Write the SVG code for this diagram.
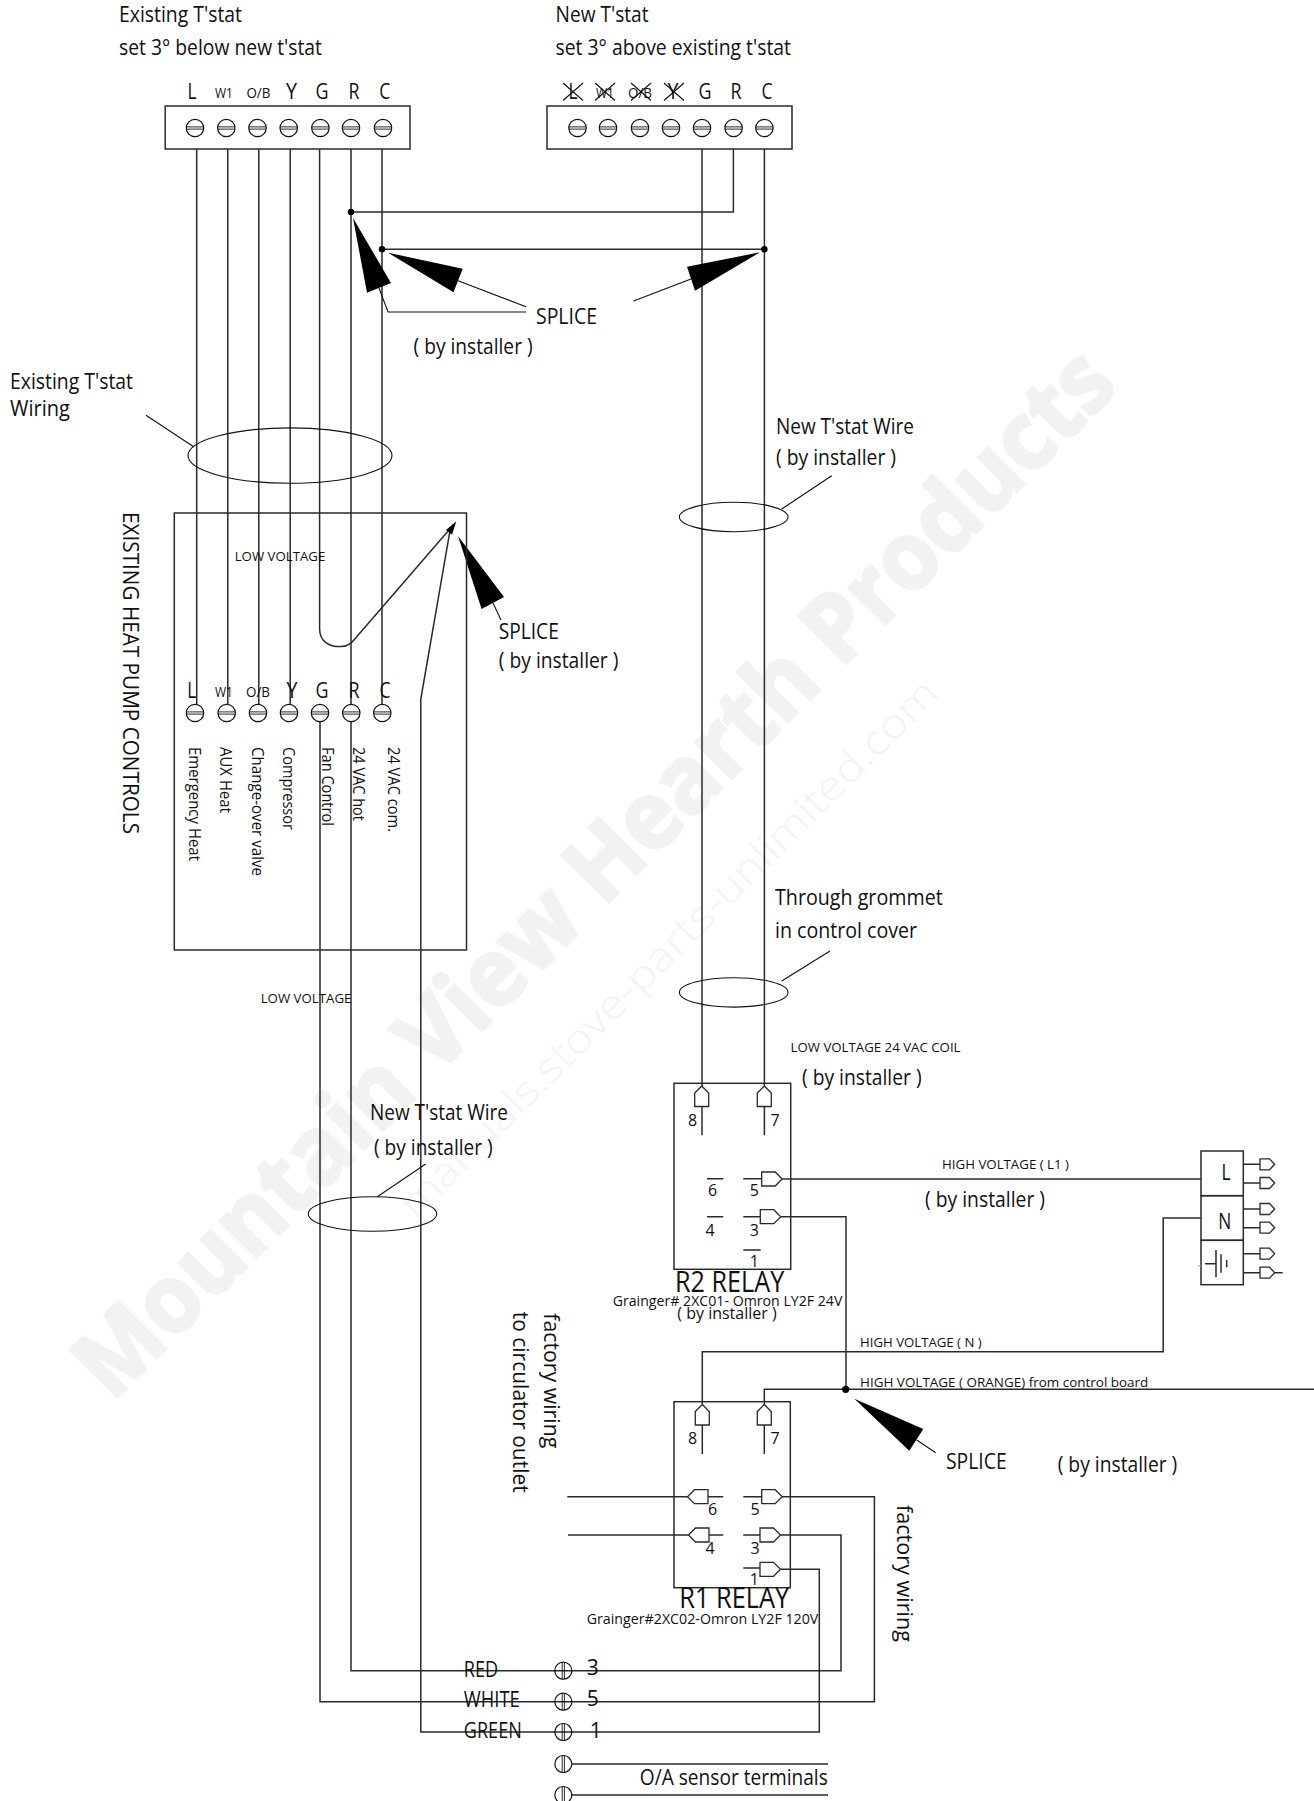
<svg xmlns="http://www.w3.org/2000/svg" xmlns:xlink="http://www.w3.org/1999/xlink" width="1314" height="1801" viewBox="0 0 1314 1801">
<style>
text{font-family:"Open Sans","Noto Sans","Liberation Sans",sans-serif;fill:#111;font-size:21px}
.c{text-anchor:middle}
.s12{font-size:13.5px}.s14{font-size:14.5px}.r14{font-size:15.5px}.s15{font-size:16px}.s16{font-size:17px}.s27{font-size:29px}
.w{fill:none;stroke:#2a2a2a;stroke-width:1.5}
.thin{fill:none;stroke:#111;stroke-width:1.1}
.box{fill:none;stroke:#2a2a2a;stroke-width:1.5}
.big{fill:#000;stroke:none}
.wm1{font-family:"Open Sans","Liberation Sans",sans-serif;font-weight:700;font-size:94px;fill:#f2f2f2;stroke:#f2f2f2;stroke-width:3}
.wm2{font-family:"Open Sans","Liberation Sans",sans-serif;font-weight:300;font-size:40px;fill:#f3f3f3}
</style>
<defs>
<g id="screw-h"><circle r="8.7" fill="#fff" stroke="#111" stroke-width="1.2"/><path d="M-8.7-1.1H8.7M-8.7 1.1H8.7" stroke="#111" stroke-width="0.9" fill="none"/></g>
<g id="screw-v"><circle r="8.5" fill="none" stroke="#111" stroke-width="1.2"/><path d="M-1.1-8.5V8.5M1.1-8.5V8.5" stroke="#111" stroke-width="0.9" fill="none"/></g>
<polygon id="plug" points="0,-7 13.5,-7 20.5,0 13.5,7 0,7" fill="#fff" stroke="#2a2a2a" stroke-width="1.3"/>
<polygon id="plug-s" points="0,-5.5 9.5,-5.5 14.7,0 9.5,5.5 0,5.5" fill="#fff" stroke="#2a2a2a" stroke-width="1.3"/>
</defs>
<g id="watermark">
<text class="wm1" transform="translate(112,1403) rotate(-45.2)" textLength="1431" lengthAdjust="spacingAndGlyphs">Mountain View Hearth Products</text>
<text class="wm2" transform="translate(416,1220) rotate(-45)" textLength="742" lengthAdjust="spacingAndGlyphs">manuals.stove-parts-unlimited.com</text>
</g>
<g id="connectors">
<path class="w" d="M196.7 149V709M227.8 149V709M258.8 149V709M290.2 149V709M382 149V709"/>
<path class="w" d="M319.6 149V628.8C319.6 642 330 647 341 646.6C347 646.5 351 644 355 638.7L449 530"/>
<path class="w" d="M351 149V1670.7H841V1535H780.7"/>
<path class="w" d="M320 720V1701.7H874.4V1496.7H781.7"/>
<path class="w" d="M450 530.7L420.8 699V1732H819.3V1569.3H780.7"/>
<path class="w" d="M351 212H733.4V149"/>
<path class="w" d="M382 249.3H764.4"/>
<path class="w" d="M702 149V1135.3M764.4 149V1135.3"/>
<path class="w" d="M782.3 1179H1201"/>
<path class="w" d="M781 1216.7H846V1389.3"/>
<path class="w" d="M702.3 1454V1351.7H1163.2V1218H1201"/>
<path class="w" d="M764.3 1454V1389.3H1314"/>
<path class="w" d="M567.3 1496.7H723.3M568 1535H723.3"/>
<path class="w" d="M563.3 1764H828M563.3 1795H828"/>
<circle cx="351" cy="212" r="3.2" fill="#000"/>
<circle cx="382" cy="249.3" r="3.2" fill="#000"/>
<circle cx="764.4" cy="249.3" r="3.2" fill="#000"/>
<circle cx="845.7" cy="1389.3" r="3.6" fill="#000"/>
<path class="thin" d="M379 288L388 312H526M458 280.7L526 306.7M691 279L633.5 301M493 603L501 620M916.7 1440L935.7 1452.7"/>
<polygon class="big" points="353,218 391,283 367,292.7"/>
<polygon class="big" points="388,252.7 462.7,268.7 453.5,292.3"/>
<polygon class="big" points="760,252.3 687,266.7 695,290.7"/>
<polygon class="big" points="458,536 504,597 481.6,609"/>
<polygon class="big" points="854.3,1398.7 923.3,1429 909.3,1450.7"/>
<polygon class="big" points="456.3,521.3 446,530 452,534.7"/>
<path class="thin" d="M146 415.3L194 447M781.7 509L831.7 475.7M781.7 981L830 951M377.3 1196.7L425.7 1164"/>
<ellipse class="thin" cx="290" cy="455.6" rx="102" ry="27.7"/>
<ellipse class="thin" cx="733.7" cy="517" rx="54.3" ry="14.7"/>
<ellipse class="thin" cx="733.7" cy="992.4" rx="54.3" ry="14.7"/>
<ellipse class="thin" cx="372.5" cy="1214" rx="64.2" ry="17.2"/>
</g>
<g id="existing-tstat">
<text x="119" y="21.7" textLength="123" lengthAdjust="spacingAndGlyphs">Existing T'stat</text>
<text x="119" y="55" textLength="203" lengthAdjust="spacingAndGlyphs">set 3° below new t'stat</text>
<rect class="box" x="165.2" y="106" width="244.8" height="43"/>
<text class="c" x="192" y="98.7" textLength="9" lengthAdjust="spacingAndGlyphs">L</text><text class="c s14" x="224" y="98" textLength="18" lengthAdjust="spacingAndGlyphs">W1</text><text class="c s14" x="258.4" y="98" textLength="24" lengthAdjust="spacingAndGlyphs">O/B</text><text class="c" x="291.5" y="98.7" textLength="11" lengthAdjust="spacingAndGlyphs">Y</text><text class="c" x="322" y="98.7" textLength="13" lengthAdjust="spacingAndGlyphs">G</text><text class="c" x="354" y="98.7" textLength="11" lengthAdjust="spacingAndGlyphs">R</text><text class="c" x="384.7" y="98.7" textLength="11" lengthAdjust="spacingAndGlyphs">C</text>
<use href="#screw-h" x="195" y="128"/><use href="#screw-h" x="226.3" y="128"/><use href="#screw-h" x="257.5" y="128"/><use href="#screw-h" x="288.7" y="128"/><use href="#screw-h" x="320.4" y="128"/><use href="#screw-h" x="351" y="128"/><use href="#screw-h" x="383" y="128"/>
</g>
<g id="new-tstat">
<text x="555.5" y="21.7" textLength="93" lengthAdjust="spacingAndGlyphs">New T'stat</text>
<text x="555.5" y="55" textLength="235.5" lengthAdjust="spacingAndGlyphs">set 3° above existing t'stat</text>
<rect class="box" x="547" y="106" width="245" height="43"/>
<text class="c" x="573" y="98.7" textLength="9" lengthAdjust="spacingAndGlyphs">L</text><text class="c s14" x="605" y="98" textLength="18" lengthAdjust="spacingAndGlyphs">W1</text><text class="c s14" x="640" y="98" textLength="24" lengthAdjust="spacingAndGlyphs">O/B</text><text class="c" x="673" y="98.7" textLength="11" lengthAdjust="spacingAndGlyphs">Y</text><text class="c" x="705" y="98.7" textLength="13" lengthAdjust="spacingAndGlyphs">G</text><text class="c" x="736" y="98.7" textLength="11" lengthAdjust="spacingAndGlyphs">R</text><text class="c" x="767" y="98.7" textLength="11" lengthAdjust="spacingAndGlyphs">C</text>
<path class="thin" d="M563 83L583 100.5M583 83L563 100.5M595 83L615 100.5M615 83L595 100.5M631 83L651 100.5M651 83L631 100.5M664 83L684 100.5M684 83L664 100.5"/>
<use href="#screw-h" x="577.5" y="128"/><use href="#screw-h" x="608" y="128"/><use href="#screw-h" x="640" y="128"/><use href="#screw-h" x="671" y="128"/><use href="#screw-h" x="702" y="128"/><use href="#screw-h" x="733.6" y="128"/><use href="#screw-h" x="764.4" y="128"/>
</g>
<g id="heat-pump-controls">
<rect class="box" x="174.3" y="513" width="292.2" height="437"/>
<text transform="translate(123,512) rotate(90)" textLength="322" lengthAdjust="spacingAndGlyphs">EXISTING HEAT PUMP CONTROLS</text>
<text class="s12" x="234.7" y="560.8" textLength="90.6" lengthAdjust="spacingAndGlyphs">LOW VOLTAGE</text>
<text class="c" x="191.7" y="698" textLength="9" lengthAdjust="spacingAndGlyphs">L</text><text class="c s14" x="224" y="696.7" textLength="18" lengthAdjust="spacingAndGlyphs">W1</text><text class="c s14" x="258" y="696.7" textLength="24" lengthAdjust="spacingAndGlyphs">O/B</text><text class="c" x="292" y="698" textLength="11" lengthAdjust="spacingAndGlyphs">Y</text><text class="c" x="322" y="698" textLength="13" lengthAdjust="spacingAndGlyphs">G</text><text class="c" x="354" y="698" textLength="11" lengthAdjust="spacingAndGlyphs">R</text><text class="c" x="385" y="698" textLength="11" lengthAdjust="spacingAndGlyphs">C</text>
<use href="#screw-h" x="195" y="713"/><use href="#screw-h" x="226.7" y="713"/><use href="#screw-h" x="258" y="713"/><use href="#screw-h" x="289" y="713"/><use href="#screw-h" x="320" y="713"/><use href="#screw-h" x="351.3" y="713"/><use href="#screw-h" x="382.3" y="713"/>
<text class="r14" transform="translate(189,747) rotate(90)" textLength="114" lengthAdjust="spacingAndGlyphs">Emergency Heat</text>
<text class="r14" transform="translate(219.5,747) rotate(90)" textLength="66" lengthAdjust="spacingAndGlyphs">AUX Heat</text>
<text class="r14" transform="translate(251.5,747) rotate(90)" textLength="129" lengthAdjust="spacingAndGlyphs">Change-over valve</text>
<text class="r14" transform="translate(283,747) rotate(90)" textLength="83" lengthAdjust="spacingAndGlyphs">Compressor</text>
<text class="r14" transform="translate(322.3,747) rotate(90)" textLength="79" lengthAdjust="spacingAndGlyphs">Fan Control</text>
<text class="r14" transform="translate(352.7,747) rotate(90)" textLength="74" lengthAdjust="spacingAndGlyphs">24 VAC hot</text>
<text class="r14" transform="translate(388.3,747) rotate(90)" textLength="85" lengthAdjust="spacingAndGlyphs">24 VAC com.</text>
</g>
<g id="r2-relay">
<rect class="box" x="674" y="1083.3" width="116.7" height="186"/>
<use href="#plug" transform="translate(701.7,1106.5) rotate(-90)"/>
<use href="#plug" transform="translate(764.3,1106.5) rotate(-90)"/>
<text class="c s15" x="692.7" y="1125.7">8</text><text class="c s15" x="775" y="1125.7">7</text>
<path class="w" d="M707 1178.7H723.3M743.3 1178.7H761.7M707 1216.7H723.3M743.3 1216.7H760.3M743.3 1250H760.7"/>
<use href="#plug" x="761.7" y="1179"/><use href="#plug" x="760.3" y="1216.7"/>
<text class="c s15" x="712.7" y="1196">6</text><text class="c s15" x="754.3" y="1196">5</text><text class="c s15" x="710" y="1236">4</text><text class="c s15" x="754.3" y="1236">3</text><text class="c s15" x="754.3" y="1266.7">1</text>
<text class="s27" x="675" y="1291.7" textLength="109.3" lengthAdjust="spacingAndGlyphs">R2 RELAY</text>
<text class="s14" x="612.7" y="1305.7" textLength="229.7" lengthAdjust="spacingAndGlyphs">Grainger# 2XC01- Omron LY2F 24V</text>
<text class="s16" x="677.3" y="1319" textLength="99.4" lengthAdjust="spacingAndGlyphs">( by installer )</text>
</g>
<g id="r1-relay">
<rect class="box" x="674" y="1401.7" width="116.3" height="186"/>
<use href="#plug" transform="translate(702.3,1425) rotate(-90)"/>
<use href="#plug" transform="translate(764.3,1425) rotate(-90)"/>
<text class="c s15" x="692.7" y="1444">8</text><text class="c s15" x="775" y="1444">7</text>
<use href="#plug" transform="translate(708,1496.7) rotate(180)"/>
<use href="#plug" transform="translate(709,1535) rotate(180)"/>
<path class="w" d="M743.3 1496.7H761.7M743.3 1535H760M743.3 1568H760"/>
<use href="#plug" x="761.7" y="1496.7"/><use href="#plug" x="760" y="1535"/><use href="#plug" x="760" y="1569.3"/>
<text class="c s15" x="712.7" y="1515">6</text><text class="c s15" x="755" y="1515">5</text><text class="c s15" x="710" y="1554">4</text><text class="c s15" x="755" y="1554">3</text><text class="c s15" x="754.3" y="1585.3">1</text>
<text class="s27" x="679.3" y="1608.3" textLength="110" lengthAdjust="spacingAndGlyphs">R1 RELAY</text>
<text class="s14" x="586.7" y="1624" textLength="231.6" lengthAdjust="spacingAndGlyphs">Grainger#2XC02-Omron LY2F 120V</text>
</g>
<g id="terminal-block">
<rect class="box" x="1201" y="1151" width="42.3" height="44.7"/>
<rect class="box" x="1201" y="1195.7" width="42.3" height="44.6"/>
<rect class="box" x="1201" y="1240.3" width="42.3" height="44.4"/>
<text class="c" x="1226" y="1180" textLength="9" lengthAdjust="spacingAndGlyphs">L</text><text class="c" x="1224.7" y="1229" textLength="13" lengthAdjust="spacingAndGlyphs">N</text>
<path class="w" d="M1205 1263.7H1216M1216 1250V1277M1221 1254.3V1272.7M1226.7 1260V1267.3"/>
<path d="M1197.5 1266H1201" stroke="#7bc043" stroke-width="1"/>
<path class="w" d="M1243.3 1164.3H1260M1243.3 1183H1260M1243.3 1209H1260M1243.3 1227.7H1260M1243.3 1253.7H1260M1243.3 1272.7H1260M1274 1272.7H1282.7"/>
<use href="#plug-s" x="1260" y="1164.3"/><use href="#plug-s" x="1260" y="1183"/><use href="#plug-s" x="1260" y="1209"/><use href="#plug-s" x="1260" y="1227.7"/><use href="#plug-s" x="1260" y="1253.7"/><use href="#plug-s" x="1260" y="1272.7"/>
</g>
<g id="bottom-terminals">
<use href="#screw-v" x="563.3" y="1670.7"/><use href="#screw-v" x="563.3" y="1701.7"/><use href="#screw-v" x="563.3" y="1732"/>
<g><circle cx="563.3" cy="1764" r="8.5" fill="#fff" stroke="#111" stroke-width="1.2"/><path d="M562.2 1755.5V1772.5M564.4 1755.5V1772.5" stroke="#111" stroke-width="0.9" fill="none"/></g>
<g><circle cx="563.3" cy="1795" r="8.5" fill="#fff" stroke="#111" stroke-width="1.2"/><path d="M562.2 1786.5V1803.5M564.4 1786.5V1803.5" stroke="#111" stroke-width="0.9" fill="none"/></g>
<text x="463.8" y="1677.3" textLength="34.4" lengthAdjust="spacingAndGlyphs">RED</text>
<text x="463.8" y="1707.3" textLength="55.9" lengthAdjust="spacingAndGlyphs">WHITE</text>
<text x="463.8" y="1737.7" textLength="58" lengthAdjust="spacingAndGlyphs">GREEN</text>
<text class="c" x="592.8" y="1675.3">3</text><text class="c" x="592.8" y="1706">5</text><text class="c" x="595.8" y="1738">1</text>
<text x="639.8" y="1785" textLength="188" lengthAdjust="spacingAndGlyphs">O/A sensor terminals</text>
</g>
<g id="labels">
<text x="536" y="324" textLength="61" lengthAdjust="spacingAndGlyphs">SPLICE</text>
<text x="413.6" y="354" textLength="119" lengthAdjust="spacingAndGlyphs">( by installer )</text>
<text x="10" y="388.5" textLength="123" lengthAdjust="spacingAndGlyphs">Existing T'stat</text>
<text x="10" y="416" textLength="60" lengthAdjust="spacingAndGlyphs">Wiring</text>
<text x="498.8" y="639" textLength="60" lengthAdjust="spacingAndGlyphs">SPLICE</text>
<text x="498.8" y="668" textLength="119.6" lengthAdjust="spacingAndGlyphs">( by installer )</text>
<text x="776" y="434" textLength="138" lengthAdjust="spacingAndGlyphs">New T'stat Wire</text>
<text x="776" y="465" textLength="120" lengthAdjust="spacingAndGlyphs">( by installer )</text>
<text x="775" y="905" textLength="167.7" lengthAdjust="spacingAndGlyphs">Through grommet</text>
<text x="775" y="938" textLength="142" lengthAdjust="spacingAndGlyphs">in control cover</text>
<text class="s12" x="260.7" y="1003" textLength="90.7" lengthAdjust="spacingAndGlyphs">LOW VOLTAGE</text>
<text x="370" y="1120" textLength="138" lengthAdjust="spacingAndGlyphs">New T'stat Wire</text>
<text x="374" y="1155" textLength="118.7" lengthAdjust="spacingAndGlyphs">( by installer )</text>
<text class="s12" x="790.5" y="1052" textLength="170" lengthAdjust="spacingAndGlyphs">LOW VOLTAGE 24 VAC COIL</text>
<text x="802" y="1085" textLength="119.6" lengthAdjust="spacingAndGlyphs">( by installer )</text>
<text class="s12" x="942" y="1168.7" textLength="127" lengthAdjust="spacingAndGlyphs">HIGH VOLTAGE ( L1 )</text>
<text x="925" y="1206.7" textLength="120" lengthAdjust="spacingAndGlyphs">( by installer )</text>
<text class="s12" x="860" y="1347.3" textLength="121.7" lengthAdjust="spacingAndGlyphs">HIGH VOLTAGE ( N )</text>
<text class="s12" x="860" y="1386.7" textLength="288.3" lengthAdjust="spacingAndGlyphs">HIGH VOLTAGE ( ORANGE) from control board</text>
<text x="946" y="1469" textLength="60.7" lengthAdjust="spacingAndGlyphs">SPLICE</text>
<text x="1057.7" y="1471.7" textLength="119.6" lengthAdjust="spacingAndGlyphs">( by installer )</text>
<text transform="translate(544,1313.3) rotate(90)" textLength="135" lengthAdjust="spacingAndGlyphs">factory wiring</text>
<text transform="translate(512.7,1311.7) rotate(90)" textLength="181" lengthAdjust="spacingAndGlyphs">to circulator outlet</text>
<text transform="translate(896.7,1505) rotate(90)" textLength="137" lengthAdjust="spacingAndGlyphs">factory wiring</text>
</g>
</svg>
